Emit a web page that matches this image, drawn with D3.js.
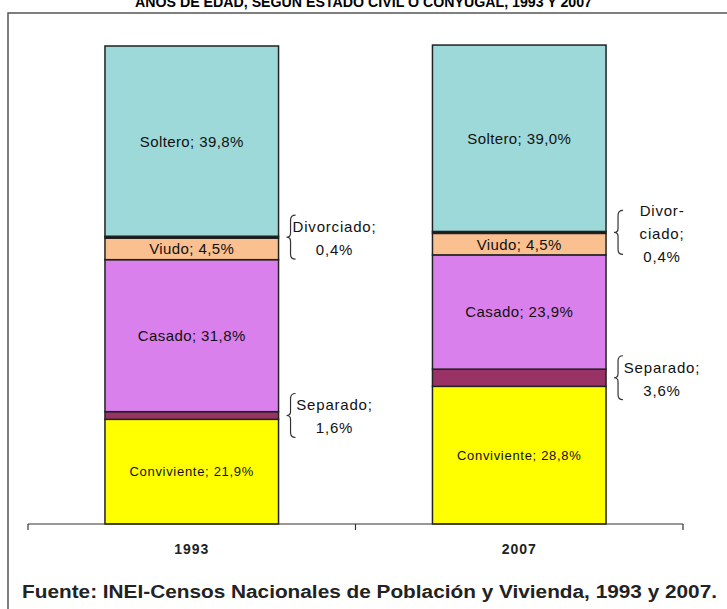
<!DOCTYPE html>
<html>
<head>
<meta charset="utf-8">
<script src="https://cdnjs.cloudflare.com/ajax/libs/d3/7.8.5/d3.min.js"></script>
<style>
  body { margin: 0; background: #fff; }
  svg { display: block; font-family: "Liberation Sans", Arial, sans-serif; }
</style>
</head>
<body>
<div id="chart"></div>
<script>
// data, bottom to top of each bar
let years = ["1993", "2007"]
let estados = ["Conviviente", "Separado", "Casado", "Viudo", "Divorciado", "Soltero"]
let valores1993 = [21.9, 1.6, 31.8, 4.5, 0.4, 39.8]
let valores2007 = [28.8, 3.6, 23.9, 4.5, 0.4, 39.0]
let colores = ["#ffff00", "#993366", "#da80ec", "#fac090", "#111111", "#9dd9d9"]
// labels written beside the bar (with a brace) instead of inside it
let notas1993 = { Divorciado: ["Divorciado;", "0,4%"], Separado: ["Separado;", "1,6%"] }
let notas2007 = { Divorciado: ["Divor-", "ciado;", "0,4%"], Separado: ["Separado;", "3,6%"] }
let titulo = "AÑOS DE EDAD, SEGÚN ESTADO CIVIL O CONYUGAL, 1993 Y 2007"
let fuente = "Fuente: INEI-Censos Nacionales de Población y Vivienda, 1993 y 2007."

let width = 727
let height = 609
let axisLeft = 28
let axisRight = 683
let plotTop = 46
let plotBottom = 524

let series = [valores1993, valores2007]
let notas = [notas1993, notas2007]

let svg = d3.select("#chart").append("svg")
  .attr("width", width)
  .attr("height", height)

// frame (right and bottom edges fall outside the picture)
svg.append("path")
  .attr("d", `M8,${height} V13 H${width}`)
  .attr("fill", "none")
  .attr("stroke", "#555")
  .attr("stroke-width", 1.5)

// title: only the lower part of its last line is inside the picture
svg.append("text")
  .attr("x", width / 2)
  .attr("y", 7)
  .attr("text-anchor", "middle")
  .attr("font-weight", "bold")
  .attr("font-size", 15)
  .attr("textLength", 457)
  .attr("lengthAdjust", "spacingAndGlyphs")
  .text(titulo)

let x = d3.scaleBand()
  .domain(years)
  .range([axisLeft, axisRight])
  .paddingInner(0.47)
  .paddingOuter(0.235)

let y = d3.scaleLinear()
  .domain([0, 100])
  .range([plotBottom, plotTop])

// stack the segments
let segments = []
years.forEach(function(year, i) {
  let acc = 0
  estados.forEach(function(estado, j) {
    let v = series[i][j]
    segments.push({ year: year, estado: estado, v: v, y0: acc, y1: acc + v, color: colores[j], nota: notas[i][estado] })
    acc += v
  })
})

let bars = svg.append("g")

bars.selectAll("rect")
  .data(segments)
  .join("rect")
  .attr("x", d => x(d.year))
  .attr("width", x.bandwidth())
  .attr("y", d => y(d.y1))
  .attr("height", d => y(d.y0) - y(d.y1))
  .attr("fill", d => d.color)
  .attr("stroke", "#222")
  .attr("stroke-width", 1.5)

// labels inside the segments
let fmt = v => d3.format(".1f")(v).replace(".", ",") + "%"

bars.selectAll("text.inside")
  .data(segments.filter(d => !d.nota))
  .join("text")
  .attr("class", "inside")
  .attr("x", d => x(d.year) + x.bandwidth() / 2)
  .attr("y", d => (y(d.y0) + y(d.y1)) / 2)
  .attr("dy", "0.36em")
  .attr("text-anchor", "middle")
  .attr("font-size", d => d.estado == "Conviviente" ? 13 : 15)
  .attr("letter-spacing", d => d.estado == "Conviviente" ? 0.7 : 0.4)
  .attr("fill", "#111")
  .text(d => d.estado + "; " + fmt(d.v))

// labels beside the bar, with a brace
let lineGap = 23
let braceHalf = 22

function bracePath(bx, cy) {
  let y0 = cy - braceHalf, y1 = cy + braceHalf
  return `M${bx + 5},${y0} Q${bx},${y0} ${bx},${y0 + 5} L${bx},${cy - 4} Q${bx},${cy} ${bx - 4},${cy}`
    + ` Q${bx},${cy} ${bx},${cy + 4} L${bx},${y1 - 5} Q${bx},${y1} ${bx + 5},${y1}`
}

let outside = bars.selectAll("g.nota")
  .data(segments.filter(d => d.nota))
  .join("g")
  .attr("class", "nota")

outside.append("path")
  .attr("d", d => bracePath(x(d.year) + x.bandwidth() + 12, (y(d.y0) + y(d.y1)) / 2))
  .attr("fill", "none")
  .attr("stroke", "#333")
  .attr("stroke-width", 1.2)

outside.each(function(d) {
  let cy = (y(d.y0) + y(d.y1)) / 2 + 1
  let first = cy - (d.nota.length - 1) * lineGap / 2
  d3.select(this).selectAll("text")
    .data(d.nota)
    .join("text")
    .attr("x", x(d.year) + x.bandwidth() + 56)
    .attr("y", (t, k) => first + k * lineGap)
    .attr("dy", "0.36em")
    .attr("text-anchor", "middle")
    .attr("font-size", 15)
    .attr("letter-spacing", 0.8)
    .attr("fill", "#111")
    .text(t => t)
})

// category axis
let axis = svg.append("g")
axis.append("line")
  .attr("x1", axisLeft).attr("x2", axisRight)
  .attr("y1", plotBottom).attr("y2", plotBottom)
  .attr("stroke", "#333")
  .attr("stroke-width", 1.2)

let boundaries = [axisLeft].concat(years.map(d => x(d) + x.bandwidth() + x.step() * x.paddingInner() / 2))
boundaries[boundaries.length - 1] = axisRight
axis.selectAll("line.tick")
  .data(boundaries)
  .join("line")
  .attr("class", "tick")
  .attr("x1", d => d).attr("x2", d => d)
  .attr("y1", plotBottom).attr("y2", plotBottom + 6)
  .attr("stroke", "#333")
  .attr("stroke-width", 1.2)

axis.selectAll("text")
  .data(years)
  .join("text")
  .attr("x", d => x(d) + x.bandwidth() / 2)
  .attr("y", 554)
  .attr("text-anchor", "middle")
  .attr("font-weight", "bold")
  .attr("font-size", 14)
  .attr("letter-spacing", 1)
  .attr("fill", "#222")
  .text(d => d)

svg.append("text")
  .attr("x", 22)
  .attr("y", 598)
  .attr("font-weight", "bold")
  .attr("font-size", 18)
  .attr("textLength", 695)
  .attr("lengthAdjust", "spacingAndGlyphs")
  .attr("fill", "#222")
  .text(fuente)
</script>
</body>
</html>
